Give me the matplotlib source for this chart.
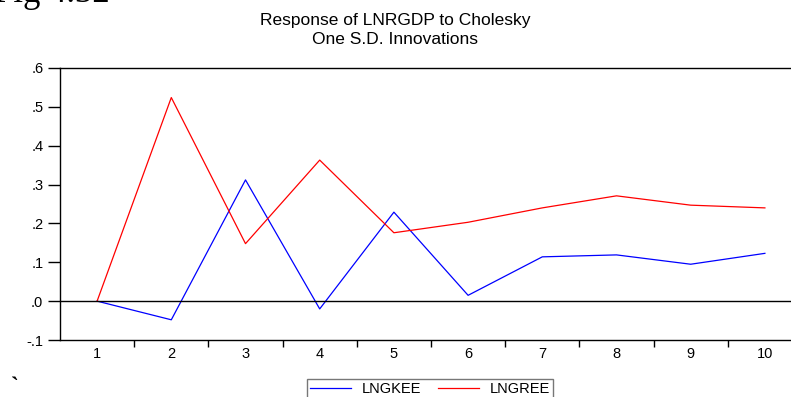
import matplotlib
matplotlib.use('Agg')
import matplotlib.pyplot as plt
import numpy as np

## Data
periods = [1, 2, 3, 4, 5, 6, 7, 8, 9, 10]
lngkee = [0.0, -0.048, 0.312, -0.020, 0.229, 0.015, 0.114, 0.119, 0.095, 0.123]
lngree = [0.0, 0.524, 0.148, 0.363, 0.176, 0.203, 0.240, 0.271, 0.247, 0.240]
y_ticks = [-0.1, 0.0, 0.1, 0.2, 0.3, 0.4, 0.5, 0.6]
y_labels = ['-.1', '.0', '.1', '.2', '.3', '.4', '.5', '.6']

plt.rcParams['font.family'] = ['Liberation Sans', 'DejaVu Sans']

fig = plt.figure(figsize=(7.91, 3.97), dpi=100)
# axes runs off the right edge like in the original screenshot
ax = fig.add_axes([60/791, 1 - 340/397, 742/791, 272/397])

ax.plot(periods, lngkee, color='#0000ff', lw=0.9, label='LNGKEE')
ax.plot(periods, lngree, color='#ff0000', lw=0.9, label='LNGREE')
ax.axhline(0, color='black', lw=1.0)

ax.set_xlim(0.5, 10.5)
ax.set_ylim(-0.1, 0.6)

ax.set_yticks(y_ticks)
ax.set_yticklabels(y_labels)
ax.set_xticks(periods)
ax.set_xticklabels([str(p) for p in periods])
ax.set_xticks(np.arange(1.5, 10.5, 1.0), minor=True)
ax.tick_params(axis='x', which='major', length=0, pad=5, labelsize=10.5)
ax.tick_params(axis='x', which='minor', length=5, width=1.0, direction='out')
ax.tick_params(axis='y', which='major', length=9, width=1.0, direction='out', pad=3, labelsize=10.5)

for s in ax.spines.values():
    s.set_linewidth(1.0)

fig.text(395/791, 1 - 21/397, 'Response of LNRGDP to Cholesky', ha='center', va='center', fontsize=12.5)
fig.text(395/791, 1 - 40/397, 'One S.D. Innovations', ha='center', va='center', fontsize=12.5)

# partially visible caption at the top and a stray mark at the bottom
fig.text(-6/791, 1 - 2/397, 'Fig 4.32', family='Liberation Serif', fontsize=25, ha='left', va='baseline')
fig.text(11/791, 1 - 387/397, '`', family='Liberation Serif', fontsize=17, fontweight='bold', ha='left', va='center')

leg = fig.legend(loc='upper center', bbox_to_anchor=(430/791, 1 - 379/397), ncol=2,
                 frameon=True, fancybox=False, edgecolor='#555555', fontsize=10.5,
                 handlelength=2.8, columnspacing=1.2, borderpad=0.2, handletextpad=0.75,
                 borderaxespad=0)
leg.get_frame().set_linewidth(1.0)

fig.savefig('out.png', dpi=100)
